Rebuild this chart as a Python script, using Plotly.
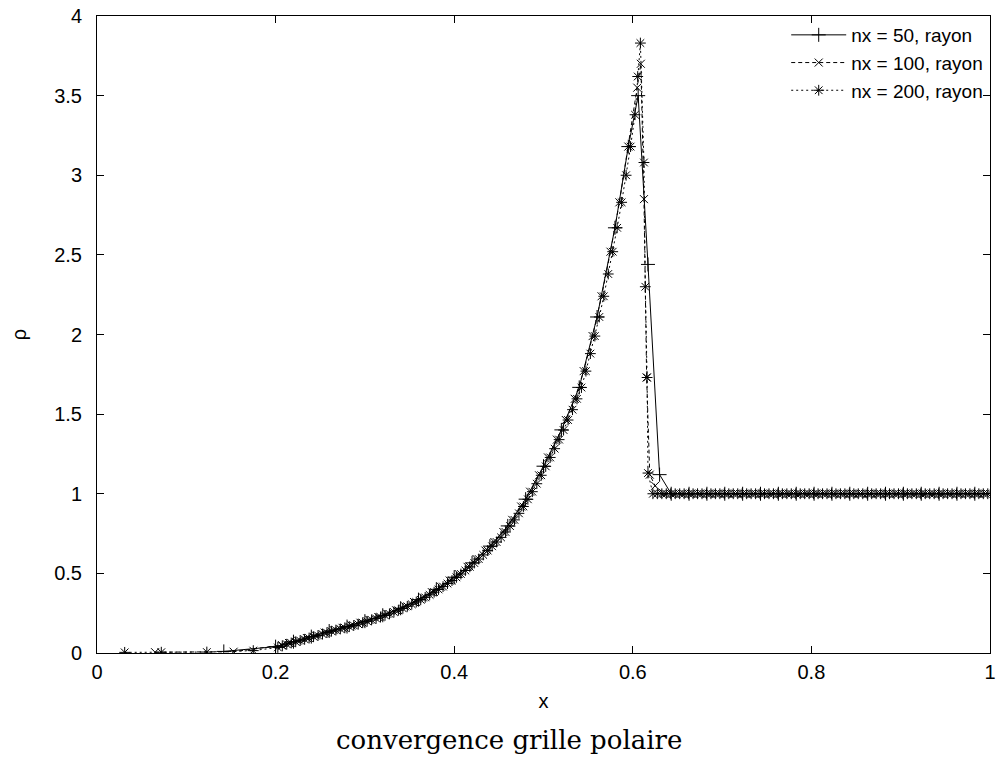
import plotly.graph_objects as go

# nx = 50 along the ray
x_50 = [0.142, 0.2, 0.22, 0.24, 0.26, 0.28, 0.3, 0.32, 0.34, 0.36, 0.38, 0.4, 0.42, 0.44, 0.46, 0.48,
        0.5, 0.52, 0.54, 0.56, 0.58, 0.595, 0.606, 0.617, 0.63, 0.643,
        0.663, 0.683, 0.703, 0.723, 0.743, 0.763, 0.783, 0.803, 0.823, 0.843, 0.863, 0.883, 0.903,
        0.923, 0.943, 0.963, 0.983]
rho_50 = [0.01, 0.04, 0.071, 0.103, 0.138, 0.166, 0.2, 0.237, 0.281, 0.335, 0.4, 0.476, 0.566, 0.671,
          0.798, 0.966, 1.173, 1.401, 1.668, 2.11, 2.67, 3.18, 3.5, 2.44, 1.12, 1.0,
          1.0, 1.0, 1.0, 1.0, 1.0, 1.0, 1.0, 1.0, 1.0, 1.0, 1.0, 1.0, 1.0, 1.0, 1.0, 1.0, 1.0]

# nx = 100 along the ray
x_100 = [0.065, 0.153, 0.207,
         0.215, 0.225, 0.235, 0.245, 0.255, 0.265, 0.275, 0.285, 0.295, 0.305, 0.315, 0.325, 0.335,
         0.345, 0.355, 0.365, 0.375, 0.385, 0.395, 0.405, 0.415, 0.425, 0.435, 0.445, 0.455, 0.465,
         0.475, 0.485, 0.495, 0.505, 0.515, 0.525, 0.535, 0.545, 0.555, 0.565, 0.575, 0.585, 0.595,
         0.605,
         0.609, 0.6125, 0.6155, 0.619, 0.625, 0.635,
         0.645, 0.655, 0.665, 0.675, 0.685, 0.695, 0.705, 0.715, 0.725, 0.735, 0.745, 0.755, 0.765,
         0.775, 0.785, 0.795, 0.805, 0.815, 0.825, 0.835, 0.845, 0.855, 0.865, 0.875, 0.885, 0.895,
         0.905, 0.915, 0.925, 0.935, 0.945, 0.955, 0.965, 0.975, 0.985, 0.995]
rho_100 = [0.005, 0.008, 0.05,
           0.063, 0.078, 0.094, 0.11, 0.128, 0.144, 0.158, 0.173, 0.19, 0.208, 0.226, 0.246, 0.268,
           0.293, 0.32, 0.349, 0.382, 0.417, 0.455, 0.496, 0.541, 0.59, 0.643, 0.697, 0.76, 0.836,
           0.92, 1.013, 1.116, 1.228, 1.34, 1.463, 1.596, 1.77, 1.99, 2.24, 2.52, 2.83, 3.18,
           3.55,
           3.7, 2.85, 1.73, 1.12, 1.05, 1.0,
           1.0, 1.0, 1.0, 1.0, 1.0, 1.0, 1.0, 1.0, 1.0, 1.0, 1.0, 1.0, 1.0, 1.0, 1.0, 1.0, 1.0, 1.0,
           1.0, 1.0, 1.0, 1.0, 1.0, 1.0, 1.0, 1.0, 1.0, 1.0, 1.0, 1.0, 1.0, 1.0, 1.0, 1.0, 1.0, 1.0]

# nx = 200 along the ray
x_200 = [0.031, 0.072, 0.123, 0.175,
         0.2025, 0.2075, 0.2125, 0.2175, 0.2225, 0.2275, 0.2325, 0.2375, 0.2425, 0.2475, 0.2525,
         0.2575, 0.2625, 0.2675, 0.2725, 0.2775, 0.2825, 0.2875, 0.2925, 0.2975, 0.3025, 0.3075,
         0.3125, 0.3175, 0.3225, 0.3275, 0.3325, 0.3375, 0.3425, 0.3475, 0.3525, 0.3575, 0.3625,
         0.3675, 0.3725, 0.3775, 0.3825, 0.3875, 0.3925, 0.3975, 0.4025, 0.4075, 0.4125, 0.4175,
         0.4225, 0.4275, 0.4325, 0.4375, 0.4425, 0.4475, 0.4525, 0.4575, 0.4625, 0.4675, 0.4725,
         0.4775, 0.4825, 0.4875, 0.4925, 0.4975, 0.5025, 0.5075, 0.5125, 0.5175, 0.5225, 0.5275,
         0.5325, 0.5375, 0.5425, 0.5475, 0.5525, 0.5575, 0.5625, 0.5675, 0.5725, 0.5775, 0.5825,
         0.5875, 0.5925, 0.5975, 0.6025,
         0.6055, 0.6085, 0.6125, 0.614, 0.616, 0.617,
         0.6225, 0.6275, 0.6325, 0.6375, 0.6425, 0.6475, 0.6525, 0.6575, 0.6625, 0.6675, 0.6725,
         0.6775, 0.6825, 0.6875, 0.6925, 0.6975, 0.7025, 0.7075, 0.7125, 0.7175, 0.7225, 0.7275,
         0.7325, 0.7375, 0.7425, 0.7475, 0.7525, 0.7575, 0.7625, 0.7675, 0.7725, 0.7775, 0.7825,
         0.7875, 0.7925, 0.7975, 0.8025, 0.8075, 0.8125, 0.8175, 0.8225, 0.8275, 0.8325, 0.8375,
         0.8425, 0.8475, 0.8525, 0.8575, 0.8625, 0.8675, 0.8725, 0.8775, 0.8825, 0.8875, 0.8925,
         0.8975, 0.9025, 0.9075, 0.9125, 0.9175, 0.9225, 0.9275, 0.9325, 0.9375, 0.9425, 0.9475,
         0.9525, 0.9575, 0.9625, 0.9675, 0.9725, 0.9775, 0.9825, 0.9875, 0.9925, 0.9975]
rho_200 = [0.004, 0.005, 0.006, 0.015,
           0.035, 0.045, 0.055, 0.063, 0.07, 0.078, 0.086, 0.094, 0.102, 0.11,
           0.119, 0.128, 0.137, 0.144, 0.151, 0.158, 0.165, 0.173, 0.181, 0.19,
           0.199, 0.208, 0.217, 0.226, 0.236, 0.246, 0.257, 0.268, 0.28, 0.293,
           0.306, 0.32, 0.334, 0.349, 0.365, 0.382, 0.399, 0.417, 0.436, 0.455,
           0.475, 0.496, 0.518, 0.541, 0.565, 0.59, 0.616, 0.643, 0.67, 0.697,
           0.726, 0.76, 0.797, 0.836, 0.877, 0.92, 0.965, 1.013, 1.063, 1.116,
           1.172, 1.228, 1.283, 1.34, 1.4, 1.463, 1.528, 1.596, 1.667, 1.77,
           1.88, 1.99, 2.11, 2.24, 2.38, 2.52, 2.67, 2.83, 3.0, 3.18,
           3.38,
           3.62, 3.83, 3.08, 2.3, 1.73, 1.13,
           1.0, 1.0, 1.0, 1.0, 1.0, 1.0, 1.0, 1.0, 1.0, 1.0, 1.0, 1.0, 1.0, 1.0, 1.0, 1.0, 1.0, 1.0,
           1.0, 1.0, 1.0, 1.0, 1.0, 1.0, 1.0, 1.0, 1.0, 1.0, 1.0, 1.0, 1.0, 1.0, 1.0, 1.0, 1.0, 1.0,
           1.0, 1.0, 1.0, 1.0, 1.0, 1.0, 1.0, 1.0, 1.0, 1.0, 1.0, 1.0, 1.0, 1.0, 1.0, 1.0, 1.0, 1.0,
           1.0, 1.0, 1.0, 1.0, 1.0, 1.0, 1.0, 1.0, 1.0, 1.0, 1.0, 1.0, 1.0, 1.0, 1.0, 1.0, 1.0, 1.0,
           1.0, 1.0, 1.0, 1.0]

x_ticks = [0, 0.2, 0.4, 0.6, 0.8, 1]
x_labels = ["0", "0.2", "0.4", "0.6", "0.8", "1"]
y_ticks = [0, 0.5, 1, 1.5, 2, 2.5, 3, 3.5, 4]
y_labels = ["0", "0.5", "1", "1.5", "2", "2.5", "3", "3.5", "4"]

SANS = "Liberation Sans, Arial, sans-serif"

fig = go.Figure()

fig.add_trace(go.Scatter(
    x=x_50, y=rho_50, name="nx = 50, rayon", mode="lines+markers",
    line=dict(color="black", width=1),
    marker=dict(symbol="cross-thin", size=10, color="black", line=dict(color="black", width=1))
))

fig.add_trace(go.Scatter(
    x=x_100, y=rho_100, name="nx = 100, rayon", mode="lines+markers",
    line=dict(color="black", width=1, dash="4px,3px"),
    marker=dict(symbol="x-thin", size=8, color="black", line=dict(color="black", width=1))
))

fig.add_trace(go.Scatter(
    x=x_200, y=rho_200, name="nx = 200, rayon", mode="lines+markers",
    line=dict(color="black", width=1, dash="2px,3px"),
    marker=dict(symbol="asterisk", size=9, color="black", line=dict(color="black", width=1))
))

axis_style = dict(
    showline=True, linecolor="black", linewidth=1, mirror="allticks",
    ticks="inside", ticklen=7, tickcolor="black", tickwidth=1,
    showgrid=False, zeroline=False, automargin=False, ticklabeloverflow="allow",
    tickfont=dict(family=SANS, size=20, color="black"),
)

fig.update_layout(
    width=999, height=762,
    margin=dict(l=97, r=9, t=16, b=109),
    plot_bgcolor="white", paper_bgcolor="white",
    font=dict(family=SANS, size=20, color="black"),
    xaxis=dict(range=[0, 1], tickvals=x_ticks, ticktext=x_labels, ticklabelstandoff=1,
               title=dict(text="x", standoff=11, font=dict(family=SANS, size=20)), **axis_style),
    yaxis=dict(range=[0, 4], tickvals=y_ticks, ticktext=y_labels, ticklabelstandoff=10,
               title=dict(text="ρ", standoff=22, font=dict(family=SANS, size=20)), **axis_style),
    legend=dict(x=0.998, y=1.0, xanchor="right", yanchor="top", bgcolor="rgba(0,0,0,0)",
                font=dict(family=SANS, size=19), tracegroupgap=0, itemwidth=55),
    showlegend=True,
)

# caption below the plot
fig.add_annotation(
    text="convergence grille polaire", xref="paper", yref="paper",
    x=0.461, y=-0.137, xanchor="center", yanchor="middle", showarrow=False,
    font=dict(family="DejaVu Serif, serif", size=26, color="black")
)

# drop the default page margin so the figure sits at the window corner
fig.write_html("out.html", config={"displayModeBar": False},
               post_script="document.body.style.margin='0px';")
